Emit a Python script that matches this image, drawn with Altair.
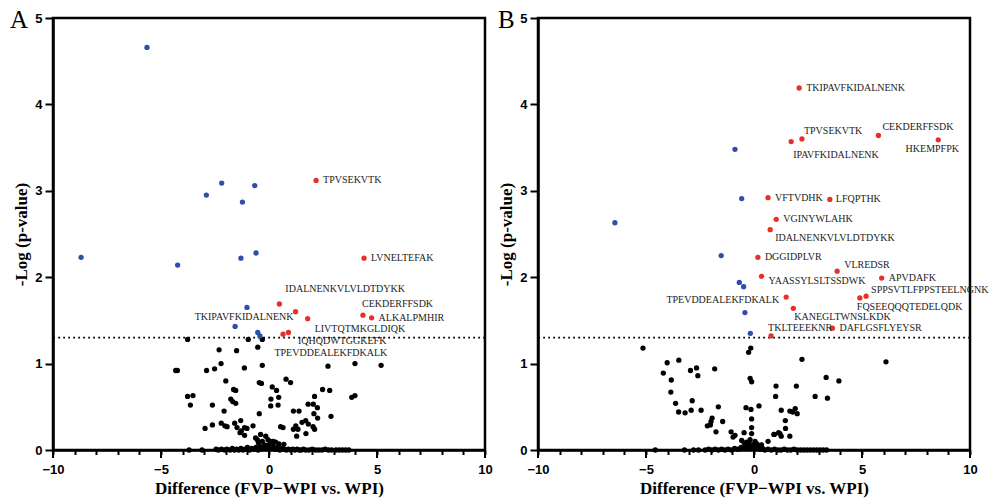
import altair as alt
import pandas as pd

THRESHOLD = 1.301  # -log10(0.05)

# x-axis tick positions: every integer, labelled/longer ones every 5
X_TICKS = list(range(-10, 11))
X_MAJOR_TICKS = [-10, -5, 0, 5, 10]

# ---------------- Panel A ----------------
A_down_x = [-5.65, -2.19, -0.66, -2.90, -1.23, -8.70, -1.30, -0.60, -4.23, -1.02, -1.57, -0.52, -0.42]
A_down_y = [4.66, 3.09, 3.06, 2.95, 2.87, 2.23, 2.22, 2.28, 2.14, 1.65, 1.43, 1.36, 1.32]

A_up_label = ["TPVSEKVTK", "LVNELTEFAK", "IDALNENKVLVLDTDYKK", "TKIPAVFKIDALNENK",
              "LIVTQTMKGLDIQK", "CEKDERFFSDK", "ALKALPMHIR", "IQHQDWTGGKEFK",
              "TPEVDDEALEKFDKALK"]
A_up_x = [2.18, 4.40, 0.48, 1.23, 1.79, 4.35, 4.75, 0.65, 0.90]
A_up_y = [3.12, 2.22, 1.69, 1.60, 1.52, 1.56, 1.53, 1.34, 1.36]

A_ns_x = [-3.77, -0.96, -0.31, -2.31, -1.50, -0.52,
          -4.32, -4.24, -2.89, -2.52, -2.22, -1.14, -0.31, 2.73, 3.98, 5.19,
          -2.00, -0.45, -0.35, 0.79, 1.00,
          -1.64, -1.54, 0.15, 0.35, 2.48, 2.81,
          -3.77, -3.52, -3.64, -2.62, -1.77, -1.68, -1.54, 0.09, 0.45, 0.08, 0.42, 3.83, 3.98, 2.11, 1.81, 2.05, 2.24,
          1.13, 1.39, -2.08, 2.87, -0.45, 2.08, 2.25, -1.31,
          -2.96, -2.62, -2.21, -2.04, -1.94, -1.59, -1.48, -1.28, -1.13, -1.02, -0.74, -1.34, -1.13,
          0.54, 0.65, 1.13, 1.24, 1.34, 1.53, 1.70, 1.82, 2.04, 1.28, 1.71, 2.11,
          -0.62, -0.39, -0.15, -0.49, 0.19, 0.46, 0.69, -0.54, -0.31, 0.05, 0.31, -0.20, 0.15, -0.05]
A_ns_y = [1.28, 1.28, 1.28, 1.16, 1.15, 1.19,
          0.92, 0.92, 0.92, 0.94, 1.00, 0.95, 0.98, 0.97, 1.00, 0.98,
          0.80, 0.78, 0.77, 0.82, 0.78,
          0.70, 0.69, 0.73, 0.69, 0.70, 0.69,
          0.62, 0.63, 0.52, 0.52, 0.59, 0.56, 0.54, 0.59, 0.61, 0.51, 0.52, 0.61, 0.63, 0.62, 0.53, 0.53, 0.49,
          0.45, 0.45, 0.45, 0.39, 0.42, 0.42, 0.37, 0.34,
          0.25, 0.29, 0.31, 0.28, 0.27, 0.31, 0.26, 0.22, 0.26, 0.25, 0.28, 0.20, 0.17,
          0.27, 0.26, 0.24, 0.28, 0.24, 0.32, 0.34, 0.30, 0.27, 0.16, 0.19, 0.24,
          0.14, 0.18, 0.16, 0.085, 0.10, 0.07, 0.066, 0.12, 0.10, 0.10, 0.09, 0.06, 0.05, 0.12]
A_zero_x = [-3.70, -3.10, -2.45, -2.35, -2.20, -2.05, -1.95, -1.80, -1.70, -1.60, -1.50, -1.40,
            -1.30, -1.20, -1.10, -1.00, -0.90, -0.80, -0.70, -0.60, -0.50, -0.40, -0.30, -0.20,
            -0.10, 0.00, 0.10, 0.20, 0.30, 0.40, 0.50, 0.60, 0.70, 0.80, 0.90, 1.00, 1.10, 1.20,
            1.30, 1.40, 1.50, 1.60, 1.70, 1.85, 2.00, 2.15, 2.30, 2.45, 2.60, 2.75, 2.90, 3.10,
            3.25, 3.40, 3.55, 3.70]
A_zero_y = [0.00, 0.00, 0.01, 0.00, 0.01, 0.00, 0.01, 0.00, 0.02, 0.00, 0.01, 0.00,
            0.02, 0.00, 0.01, 0.03, 0.00, 0.02, 0.01, 0.03, 0.00, 0.04, 0.02, 0.05,
            0.03, 0.06, 0.02, 0.04, 0.01, 0.03, 0.00, 0.02, 0.01, 0.00, 0.01, 0.00, 0.01, 0.00,
            0.01, 0.00, 0.00, 0.01, 0.00, 0.00, 0.01, 0.00, 0.00, 0.00, 0.01, 0.00, 0.00, 0.00,
            0.00, 0.00, 0.00, 0.00]

# label placement (pixel offsets from the point)
A_label_dx = [7, 7, 6, -2, 7, -1, 7, 15, -14]
A_label_dy = [0, 0, -15, 5, 10, -11, 0, 7, 21]
A_label_align = ["left", "left", "left", "right", "left", "left", "left", "left", "left"]

# ---------------- Panel B ----------------
B_down_x = [-0.88, -0.57, -6.44, -1.52, -0.68, -0.48, -0.42, -0.17]
B_down_y = [3.48, 2.91, 2.63, 2.25, 1.94, 1.89, 1.59, 1.35]

B_up_label = ["TKIPAVFKIDALNENK", "IPAVFKIDALNENK", "TPVSEKVTK", "CEKDERFFSDK", "HKEMPFPK",
              "VFTVDHK", "LFQPTHK", "VGINYWLAHK", "IDALNENKVLVLDTDYKK", "DGGIDPLVR",
              "VLREDSR", "YAASSYLSLTSSDWK", "APVDAFK", "SPPSVTLFPPSTEELNGNK",
              "FQSEEQQQTEDELQDK", "TPEVDDEALEKFDKALK", "KANEGLTWNSLKDK", "DAFLGSFLYEYSR",
              "TKLTEEEKNR"]
B_up_x = [2.09, 1.72, 2.22, 5.76, 8.53, 0.65, 3.51, 1.03, 0.75, 0.18,
          3.85, 0.35, 5.91, 5.19, 4.90, 1.49, 1.82, 3.63, 0.79]
B_up_y = [4.19, 3.57, 3.60, 3.64, 3.59, 2.92, 2.90, 2.67, 2.55, 2.23,
          2.07, 2.01, 1.99, 1.78, 1.76, 1.77, 1.64, 1.41, 1.32]

B_ns_x = [-5.14, -0.15, -0.25, -4.02, -3.48, 2.22, 6.11,
          -4.20, -2.94, -2.66, -2.60, -1.82, -3.83, -0.18, -0.11, 3.34, 3.93,
          1.02, 1.96, -3.85, 1.00, 2.83, 3.40, -3.63, -2.86,
          -3.49, -3.19, -2.91, -2.45, -1.65, -0.37, -0.14, 0.23, 1.26, 1.66, 1.79, 1.91, 2.00,
          -1.94, -1.99, -1.45, -2.16, -2.02, -1.76, -0.11, -0.11, 1.45, 1.46, -1.06, -0.97,
          -0.46, -0.11, 0.92, 1.14, 1.26, 1.66, 0.65, 0.35, 0.14,
          -0.57, -0.45, -0.34, -0.22, -0.05, 0.05, -0.30, -0.18, 0.00, 0.94, 1.20, -0.88]
B_ns_y = [1.18, 1.18, 1.13, 1.01, 1.04, 1.05, 1.02,
          0.89, 0.92, 0.95, 0.86, 0.94, 0.81, 0.83, 0.79, 0.84, 0.80,
          0.74, 0.74, 0.67, 0.62, 0.62, 0.60, 0.54, 0.57,
          0.44, 0.43, 0.46, 0.46, 0.50, 0.49, 0.47, 0.51, 0.46, 0.45, 0.44, 0.48, 0.42,
          0.37, 0.33, 0.33, 0.28, 0.29, 0.21, 0.36, 0.26, 0.34, 0.25, 0.21, 0.15,
          0.20, 0.19, 0.18, 0.20, 0.16, 0.16, 0.10, 0.06, 0.07,
          0.11, 0.08, 0.09, 0.07, 0.06, 0.10, 0.05, 0.12, 0.04, 0.18, 0.19, 0.17]
B_zero_x = [-4.57, -3.22, -2.80, -2.57, -2.26, -2.10, -1.95, -1.80, -1.65, -1.50, -1.35,
            -1.20, -1.05, -0.90, -0.75, -0.60, -0.50, -0.40, -0.30, -0.20, -0.10, 0.00,
            0.10, 0.20, 0.30, 0.40, 0.50, 0.65, 0.80, 0.95, 1.10, 1.25, 1.40, 1.55, 1.70,
            1.85, 2.00, 2.15, 2.30, 2.45, 2.60, 2.75, 2.90, 3.05, 3.20, 3.36]
B_zero_y = [0.00, 0.00, 0.00, 0.00, 0.00, 0.01, 0.00, 0.01, 0.00, 0.01, 0.00,
            0.01, 0.00, 0.02, 0.01, 0.03, 0.02, 0.04, 0.02, 0.05, 0.03, 0.06,
            0.02, 0.04, 0.01, 0.02, 0.00, 0.01, 0.00, 0.01, 0.00, 0.00, 0.01, 0.00, 0.00,
            0.01, 0.00, 0.00, 0.00, 0.00, 0.00, 0.00, 0.00, 0.00, 0.00, 0.00]

B_label_dx = [7, 2, 2, 4, -6, 7, 6, 7, 5, 7, 7, 7, 7, 5, -3, -7, 1, 7, -3]
B_label_dy = [0, 13, -8, -9, 9, 0, 0, 0, 8, 0, -6, 5, 0, -6, 9, 3, 9, 0, -8]
B_label_align = ["left", "left", "left", "left", "center", "left", "left", "left", "left", "left",
                 "left", "left", "left", "left", "left", "right", "left", "left", "left"]

X_TITLE = "Difference (FVP\u2212WPI vs. WPI)"
Y_TITLE = "-Log (p-value)"

BLUE = "#2f4dab"
RED = "#e8302b"
SERIF = "Liberation Serif"
SANS = "Liberation Sans"
PLOT = 432


def X():
    return alt.X("x:Q",
                 scale=alt.Scale(domain=[-10, 10], nice=False, zero=False),
                 axis=alt.Axis(values=X_TICKS,
                               labelExpr="datum.value % 5 === 0 ? datum.label : ''",
                               ticks=True, tickSize=4.5, labelPadding=8.5,
                               labelOverlap=False, labelFlush=False,
                               grid=False, title=X_TITLE, titlePadding=4))


def Y():
    return alt.Y("y:Q",
                 scale=alt.Scale(domain=[0, 5], nice=False, zero=False),
                 axis=alt.Axis(values=[0, 1, 2, 3, 4, 5], tickSize=8, labelPadding=3,
                               labelFlush=False, grid=False, title=Y_TITLE, titlePadding=4))


def panel(letter, letter_dx, down_x, down_y, up_x, up_y, up_label, ns_x, ns_y,
          zero_x, zero_y, ldx, ldy, lalign):
    ns = pd.DataFrame({"x": ns_x + zero_x, "y": ns_y + zero_y})
    down = pd.DataFrame({"x": down_x, "y": down_y})
    up = pd.DataFrame({"x": up_x, "y": up_y, "label": up_label})

    major = alt.Chart(pd.DataFrame({"x": X_MAJOR_TICKS})).mark_tick(
        orient="vertical", color="black", thickness=2, size=8, opacity=1).encode(
        x=X(), y=alt.value(PLOT + 4))

    thr = alt.Chart(pd.DataFrame({"y": [THRESHOLD]})).mark_rule(
        color="black", strokeWidth=1.8, strokeDash=[1.8, 3.2]).encode(y=Y())
    pts_ns = alt.Chart(ns).mark_circle(size=28, color="black", opacity=1).encode(x=X(), y=Y())
    pts_down = alt.Chart(down).mark_circle(size=28, color=BLUE, opacity=1).encode(x=X(), y=Y())
    pts_up = alt.Chart(up).mark_circle(size=28, color=RED, opacity=1).encode(x=X(), y=Y())

    labels = []
    base_lab = alt.Chart(up)
    for lab, dx, dy, al in zip(up_label, ldx, ldy, lalign):
        labels.append(
            base_lab.transform_filter(alt.datum.label == lab).mark_text(
                align=al, baseline="middle", dx=dx, dy=dy, font=SERIF, fontSize=10,
                color="#222222").encode(x=X(), y=Y(), text="label:N"))

    letter_mark = alt.Chart(pd.DataFrame({"t": [letter]})).mark_text(
        align="left", baseline="top", font=SERIF, fontSize=25, color="black").encode(
        text="t:N", x=alt.value(letter_dx), y=alt.value(-9.75))

    return alt.layer(major, thr, pts_ns, pts_down, pts_up, *labels,
                     letter_mark).properties(width=PLOT, height=PLOT)


chart_a = panel("A", -43, A_down_x, A_down_y, A_up_x, A_up_y, A_up_label, A_ns_x, A_ns_y,
                A_zero_x, A_zero_y, A_label_dx, A_label_dy, A_label_align)
chart_b = panel("B", -40, B_down_x, B_down_y, B_up_x, B_up_y, B_up_label, B_ns_x, B_ns_y,
                B_zero_x, B_zero_y, B_label_dx, B_label_dy, B_label_align)

chart = alt.hconcat(chart_a, chart_b, spacing=53, bounds="flush").properties(
    padding={"left": 8, "top": 7, "right": 0, "bottom": 0}
).configure(
    background="white"
).configure_view(
    stroke="black", strokeWidth=2.5
).configure_axis(
    domainColor="black", domainWidth=2.5, tickColor="black", tickWidth=2,
    labelFont=SANS, labelFontWeight="bold", labelFontSize=13, labelColor="black",
    titleFont=SERIF, titleFontWeight="bold", titleFontSize=17, titleColor="black"
)

chart.save("out.html", embed_options={"renderer": "svg", "actions": False})
